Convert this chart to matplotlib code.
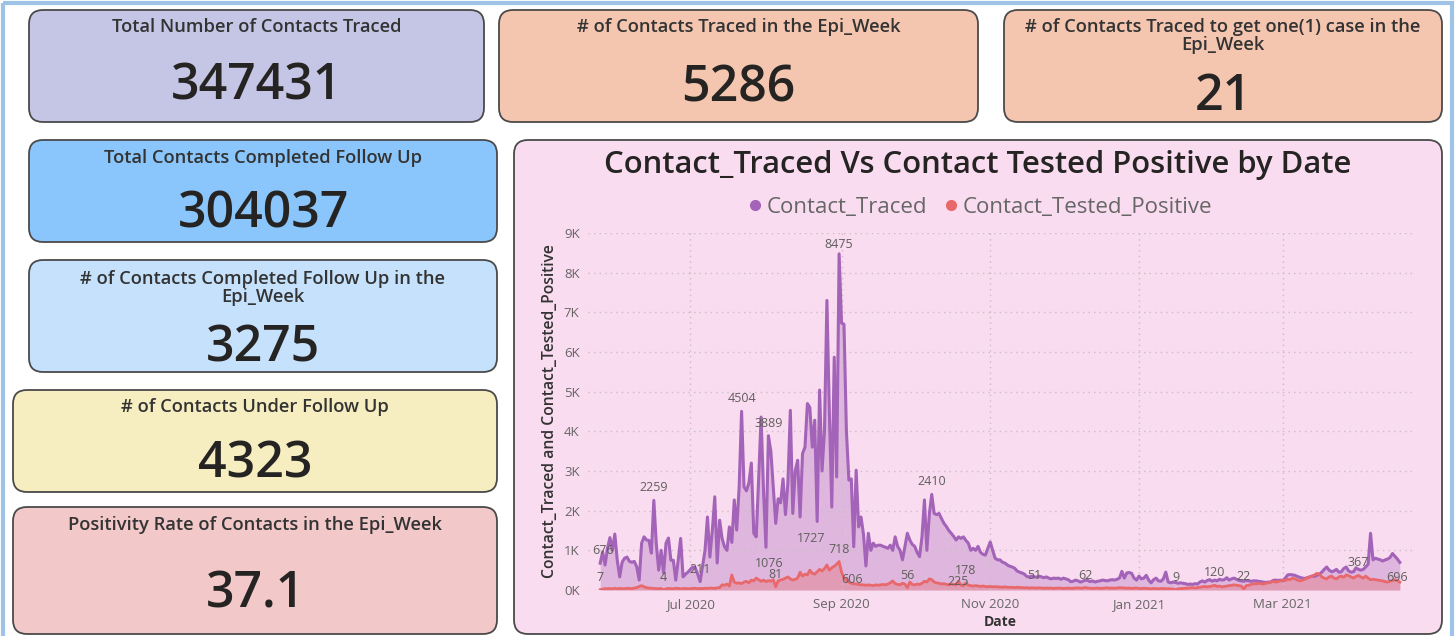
import matplotlib
matplotlib.use("Agg")
import matplotlib.pyplot as plt
import matplotlib.dates as mdates
import numpy as np
import pandas as pd
from matplotlib.lines import Line2D
from matplotlib.patches import FancyBboxPatch, Rectangle
from matplotlib.ticker import FuncFormatter, MultipleLocator

plt.rcParams["font.family"] = ["Open Sans", "DejaVu Sans"]

# ---- KPI cards ----
card_titles = [
    "Total Number of Contacts Traced",
    "# of Contacts Traced in the Epi_Week",
    "# of Contacts Traced to get one(1) case in the\nEpi_Week",
    "Total Contacts Completed Follow Up",
    "# of Contacts Completed Follow Up in the\nEpi_Week",
    "# of Contacts Under Follow Up",
    "Positivity Rate of Contacts in the Epi_Week",
]
card_values = ["347431", "5286", "21", "304037", "3275", "4323", "37.1"]

# ---- daily series (start 2020-05-25) ----
start_date = "2020-05-25"
contact_traced = [
    676, 960, 630, 1050, 1320, 1000, 1410, 750, 330, 700,
    800, 830, 720, 700, 720, 580, 250, 1180, 1340, 1260,
    1250, 930, 2259, 1180, 500, 1000, 430, 1180, 1310, 750,
    750, 250, 750, 1300, 330, 400, 450, 520, 580, 560,
    400, 211, 600, 1000, 1840, 830, 1500, 2350, 680, 1760,
    1300, 1090, 1000, 1590, 1200, 2270, 1510, 2600, 4504, 2600,
    2500, 2700, 3200, 1430, 1340, 2800, 4360, 2500, 1076, 3889,
    3500, 2600, 1680, 2300, 2200, 2800, 1900, 2700, 4530, 1930,
    3000, 3270, 1840, 3440, 3600, 4700, 4600, 3600, 4280, 1727,
    5040, 3000, 4000, 7300, 4500, 2090, 5870, 2850, 8475, 6730,
    6700, 4000, 2770, 2800, 1090, 3020, 1590, 1840, 1400, 606,
    1430, 1000, 1180, 1100, 1130, 1130, 1100, 1080, 1050, 1130,
    1000, 1340, 1100, 1000, 760, 1100, 1430, 1260, 1150, 1100,
    950, 840, 1340, 2270, 1000, 1900, 2410, 1930, 1900, 1930,
    1800, 1680, 1600, 1500, 1430, 1350, 1260, 1340, 1300, 1340,
    1250, 1180, 1000, 1050, 1000, 1100, 950, 900, 880, 1050,
    1210, 1000, 800, 760, 760, 700, 680, 630, 600, 580,
    550, 480, 450, 430, 400, 340, 330, 350, 330, 320,
    350, 330, 310, 330, 300, 280, 300, 290, 300, 270,
    300, 280, 260, 210, 220, 250, 230, 200, 220, 250,
    240, 210, 230, 200, 220, 230, 250, 240, 230, 250,
    260, 250, 270, 300, 470, 300, 430, 440, 420, 300,
    250, 350, 280, 300, 370, 250, 180, 260, 300, 230,
    220, 280, 450, 200, 180, 200, 190, 170, 180, 170,
    160, 140, 150, 140, 160, 150, 200, 230, 200, 240,
    260, 220, 250, 230, 270, 250, 260, 310, 250, 280,
    300, 270, 240, 230, 220, 240, 230, 220, 230, 230,
    220, 210, 200, 190, 200, 200, 240, 250, 240, 250,
    230, 300, 380, 390, 380, 370, 340, 320, 300, 290,
    310, 330, 350, 340, 370, 400, 450, 520, 580, 500,
    460, 480, 520, 450, 460, 540, 580, 480, 450, 460,
    560, 520, 500, 520, 580, 650, 1430, 760, 800, 780,
    760, 730, 760, 780, 820, 920, 850, 780, 696,
]
contact_positive = [
    7, 20, 35, 30, 40, 25, 45, 30, 40, 35,
    30, 45, 40, 35, 50, 60, 90, 110, 80, 60,
    50, 45, 40, 35, 30, 40, 4, 30, 40, 35,
    30, 45, 40, 30, 35, 40, 30, 35, 40, 45,
    30, 40, 35, 45, 40, 50, 45, 40, 55, 60,
    130, 120, 150, 100, 380, 200, 170, 180, 160, 200,
    220, 180, 250, 230, 300, 260, 220, 250, 210, 240,
    220, 260, 81, 230, 250, 270, 300, 330, 280, 250,
    270, 300, 450, 350, 400, 380, 500, 420, 400, 460,
    520, 480, 540, 630, 500, 560, 600, 650, 718, 450,
    300, 250, 200, 170, 160, 150, 140, 130, 130, 120,
    130, 120, 110, 130, 120, 130, 140, 130, 150, 180,
    230, 160, 140, 130, 170, 150, 56, 200, 140, 130,
    150, 140, 170, 220, 200, 280, 260, 200, 180, 170,
    150, 160, 140, 130, 150, 140, 130, 225, 120, 110,
    178, 120, 110, 100, 110, 100, 90, 100, 90, 80,
    90, 80, 85, 80, 75, 70, 80, 70, 65, 70,
    60, 70, 65, 60, 55, 60, 50, 55, 51, 50,
    55, 50, 45, 50, 45, 50, 40, 45, 50, 45,
    40, 45, 50, 40, 45, 50, 55, 45, 50, 62,
    50, 45, 40, 45, 50, 40, 45, 50, 55, 45,
    50, 45, 50, 60, 55, 50, 45, 50, 40, 45,
    50, 40, 35, 45, 40, 35, 30, 40, 35, 30,
    35, 40, 30, 35, 30, 25, 9, 30, 35, 40,
    45, 50, 55, 60, 50, 60, 70, 80, 90, 80,
    90, 100, 120, 90, 100, 80, 90, 100, 110, 120,
    130, 120, 110, 100, 22, 110, 120, 140, 160, 150,
    170, 160, 150, 170, 180, 200, 220, 200, 210, 230,
    250, 240, 270, 260, 300, 280, 250, 230, 250, 270,
    300, 330, 350, 380, 420, 400, 330, 300, 280, 330,
    350, 300, 280, 330, 350, 320, 380, 360, 330, 300,
    340, 367, 330, 300, 350, 300, 260, 270, 260, 250,
    240, 230, 210, 200, 220, 240, 260, 230, 200,
]
# days (index into the series) that carry a data label
traced_label_days = [0, 22, 41, 58, 68, 69, 89, 98, 109, 136, 328]
positive_label_days = [0, 26, 72, 98, 126, 147, 150, 178, 199, 236, 252, 264, 311]

W, H = 1455, 636
PURPLE = "#a363b8"
RED = "#e8686b"
TXT = "#333333"
GREY = "#666666"

fig = plt.figure(figsize=(W / 100, H / 100), dpi=100)
fig.patch.set_facecolor("white")

bg = fig.add_axes([0, 0, 1, 1])
bg.set_xlim(0, W)
bg.set_ylim(H, 0)
bg.axis("off")
bg.add_patch(Rectangle((3, 3), W - 6, H + 10, fill=False, edgecolor="#9fc3e7", lw=3))


def card(x0, y0, x1, y1, color):
    bg.add_patch(FancyBboxPatch((x0, y0), x1 - x0, y1 - y0,
                                boxstyle="round,pad=0,rounding_size=14",
                                facecolor=color, edgecolor="#4a4a4a", lw=1.3))


# (box, fill, title centre y, value baseline y)
layout = [
    ((29, 10, 484, 122), "#c5c6e6", 27, 100),
    ((499, 10, 978, 122), "#f4c6b0", 27, 101),
    ((1004, 10, 1442, 122), "#f4c6b0", 36, 110),
    ((29, 140, 497, 242), "#8ac6fb", 158, 227),
    ((29, 260, 497, 372), "#c5e1fb", 288, 362),
    ((13, 390, 497, 492), "#f6eec0", 407, 477),
    ((13, 507, 497, 634), "#f2c8c9", 525, 607),
]
for (box, color, ty, vy), title, value in zip(layout, card_titles, card_values):
    card(*box, color)
    cx = (box[0] + box[2]) / 2
    bg.text(cx, ty, title, ha="center", va="center", fontsize=13.2,
            fontweight="semibold", color=TXT, linespacing=1.05)
    bg.text(cx, vy, value, ha="center", va="baseline", fontsize=36,
            fontweight="semibold", color="#252423")

# chart panel
card(514, 140, 1442, 634, "#f9dcef")
bg.text(978, 165, "Contact_Traced Vs Contact Tested Positive by Date", ha="center",
        va="center", fontsize=22.3, fontweight="semibold", color="#252423")

dates = pd.date_range(start_date, periods=len(contact_traced), freq="D")
traced = np.array(contact_traced)
positive = np.array(contact_positive)

ax = fig.add_axes([588 / W, 1 - 590 / H, (1412 - 588) / W, (590 - 233) / H])
ax.set_facecolor("none")
ax.fill_between(dates, traced, color=PURPLE, alpha=0.3, lw=0)
ax.plot(dates, traced, color=PURPLE, lw=2.2)
ax.fill_between(dates, positive, color=RED, alpha=0.35, lw=0)
ax.plot(dates, positive, color=RED, lw=2)

ax.set_xlim(dates[0] - pd.Timedelta(days=5), dates[-1] + pd.Timedelta(days=5))
ax.set_ylim(0, 9000)
ax.yaxis.set_major_locator(MultipleLocator(1000))
ax.yaxis.set_major_formatter(FuncFormatter(lambda v, _: f"{v / 1000:.0f}K"))
ax.xaxis.set_major_locator(mdates.MonthLocator(bymonth=[1, 3, 7, 9, 11]))
ax.xaxis.set_major_formatter(mdates.DateFormatter("%b %Y"))
ax.grid(True, color="#c9bcc6", linestyle=(0, (1, 3)), lw=1)
ax.tick_params(length=0, labelsize=9.5, labelcolor=GREY, pad=6)
for s in ax.spines.values():
    s.set_visible(False)
ax.set_xlabel("Date", fontsize=10, fontweight="bold", color=TXT, labelpad=3)
ax.set_ylabel("Contact_Traced and Contact_Tested_Positive", fontsize=11.3,
              fontweight="semibold", color=TXT, labelpad=4)

# data labels (offsets in points)
traced_offsets = [(2, 9), (0, 9), (0, 9), (0, 9), (2, -12), (0, 9), (-4, -12),
                  (0, 7), (-10, -10), (0, 9), (-2, -11)]
positive_offsets = [(0, 9), (0, 9), (0, 9), (0, 9), (0, 9), (0, 0), (0, 9),
                    (0, 9), (0, 9), (0, 9), (0, 9), (0, 9), (0, 9)]
for d, off in zip(traced_label_days, traced_offsets):
    ax.annotate(str(contact_traced[d]), (dates[d], contact_traced[d]), xytext=off,
                textcoords="offset points", ha="center", va="center",
                fontsize=9, color="#605e5c")
for d, off in zip(positive_label_days, positive_offsets):
    ax.annotate(str(contact_positive[d]), (dates[d], contact_positive[d]), xytext=off,
                textcoords="offset points", ha="center", va="center",
                fontsize=9, color="#605e5c")

handles = [Line2D([], [], marker="o", ls="", color=PURPLE, markersize=7),
           Line2D([], [], marker="o", ls="", color=RED, markersize=7)]
fig.legend(handles, ["Contact_Traced", "Contact_Tested_Positive"], loc="center",
           bbox_to_anchor=(978 / W, 1 - 207 / H), ncol=2, frameon=False,
           fontsize=16, labelcolor=GREY, handletextpad=0.0, columnspacing=0.6,
           handlelength=1.0)

fig.savefig("out.png", dpi=100)
